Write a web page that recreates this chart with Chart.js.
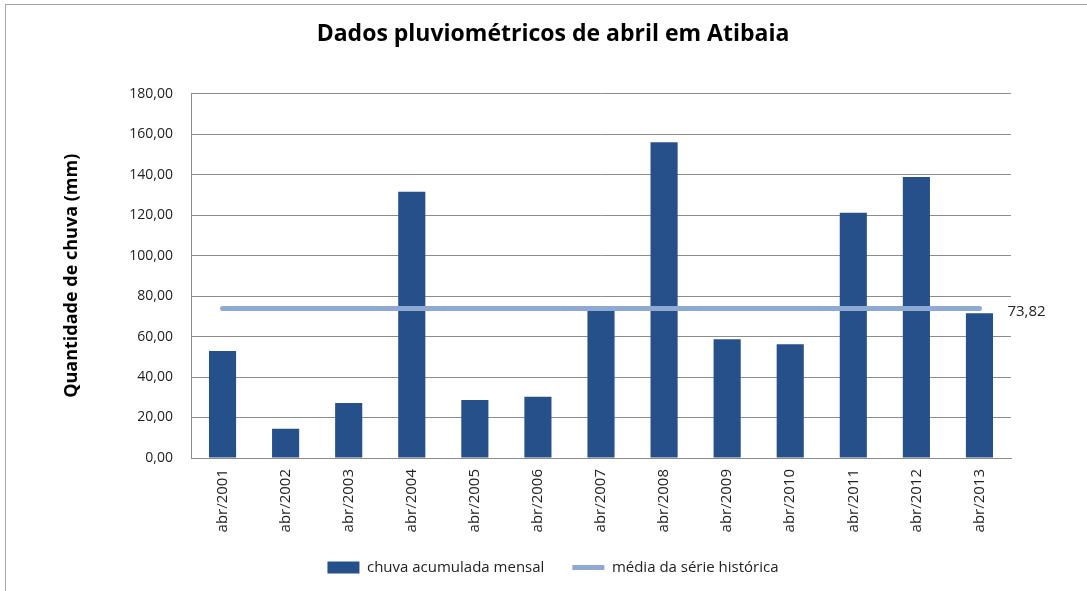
<!DOCTYPE html>
<html>
<head>
<meta charset="utf-8">
<script src="https://cdn.jsdelivr.net/npm/chart.js@4"></script>
<style>
    html, body { margin: 0; padding: 0; background: #fff; }
    #wrap { width: 1087px; height: 591px; }
</style>
</head>
<body>
<div id="wrap"><canvas id="chuvaChart" width="1087" height="591"></canvas></div>
<script>
// Dados (mm)
const meses = ['abr/2001', 'abr/2002', 'abr/2003', 'abr/2004', 'abr/2005', 'abr/2006', 'abr/2007',
    'abr/2008', 'abr/2009', 'abr/2010', 'abr/2011', 'abr/2012', 'abr/2013'];
const chuvaMensal = [52.8, 14.4, 27.2, 131.5, 28.7, 30.2, 72.6, 156.0, 58.7, 56.2, 121.1, 138.8, 71.5];
const mediaHistorica = 73.82;
const mediaSerie = meses.map(() => mediaHistorica);

const fonte = "'Open Sans', 'Noto Sans', sans-serif";

// Moldura cinza em volta do gráfico
const moldura = {
    id: 'moldura',
    beforeDraw(chart) {
        const c = chart.ctx;
        c.save();
        c.fillStyle = '#fff';
        c.fillRect(0, 0, chart.width, chart.height);
        c.strokeStyle = '#a6a6a6';
        c.lineWidth = 1;
        c.strokeRect(5.5, 4.5, chart.width - 4, chart.height - 2);
        c.restore();
    }
};

// Rótulo do valor da média no fim da linha
const rotuloMedia = {
    id: 'rotuloMedia',
    afterDatasetsDraw(chart) {
        const meta = chart.getDatasetMeta(1);
        const ultimo = meta.data[meta.data.length - 1];
        if (!ultimo) return;
        const c = chart.ctx;
        c.save();
        c.font = '15px ' + fonte;
        c.fillStyle = '#222';
        c.textAlign = 'left';
        c.textBaseline = 'middle';
        c.fillText(mediaHistorica.toFixed(2).replace('.', ','), ultimo.x + 28, ultimo.y + 3);
        c.restore();
    }
};

const ctx = document.getElementById('chuvaChart').getContext('2d');
const chart = new Chart(ctx, {
    data: {
        labels: meses,
        datasets: [
            {
                type: 'bar',
                label: 'chuva acumulada mensal',
                data: chuvaMensal,
                backgroundColor: '#26508a',
                borderWidth: 0,
                barPercentage: 0.43,
                categoryPercentage: 1,
                pointStyle: 'rect',
                order: 2
            },
            {
                type: 'line',
                label: 'média da série histórica',
                data: mediaSerie,
                borderColor: '#8eaad2',
                backgroundColor: '#8eaad2',
                borderWidth: 5,
                borderCapStyle: 'round',
                pointRadius: 0,
                pointStyle: 'line',
                fill: false,
                order: 1
            }
        ]
    },
    options: {
        responsive: false,
        animation: false,
        layout: {
            padding: { left: 60, right: 41, top: 0, bottom: 6 }
        },
        plugins: {
            title: {
                display: true,
                text: 'Dados pluviométricos de abril em Atibaia',
                color: '#000',
                font: { family: fonte, size: 23, weight: 'bold' },
                padding: { top: 21, bottom: 45 }
            },
            legend: {
                position: 'bottom',
                labels: {
                    usePointStyle: true,
                    pointStyleWidth: 32,
                    boxHeight: 12,
                    padding: 28,
                    color: '#222',
                    font: { family: fonte, size: 15 },
                    sort: (a, b) => a.datasetIndex - b.datasetIndex
                }
            },
            tooltip: { enabled: false }
        },
        scales: {
            x: {
                grid: { display: false, drawTicks: false },
                border: { display: true, color: '#8c8c8c' },
                ticks: {
                    minRotation: 90,
                    maxRotation: 90,
                    padding: 11,
                    color: '#222',
                    font: { family: fonte, size: 15 }
                },
                afterFit(scale) { scale.height = 74; }
            },
            y: {
                min: 0,
                max: 180,
                grid: { color: '#8c8c8c', drawTicks: false },
                border: { display: true, color: '#8c8c8c' },
                ticks: {
                    stepSize: 20,
                    padding: 18,
                    color: '#222',
                    font: { family: fonte, size: 14 },
                    callback: v => v.toFixed(2).replace('.', ',')
                },
                title: {
                    display: true,
                    text: 'Quantidade de chuva (mm)',
                    color: '#000',
                    font: { family: fonte, size: 18, weight: 'bold' },
                    padding: { top: 1, bottom: 0 }
                },
                afterFit(scale) { scale.width = 131; }
            },
            direita: {
                position: 'right',
                display: true,
                grid: { display: false, drawTicks: false },
                border: { display: false },
                ticks: { display: false },
                afterFit(scale) { scale.width = 35; }
            }
        }
    },
    plugins: [moldura, rotuloMedia]
});
</script>
</body>
</html>
